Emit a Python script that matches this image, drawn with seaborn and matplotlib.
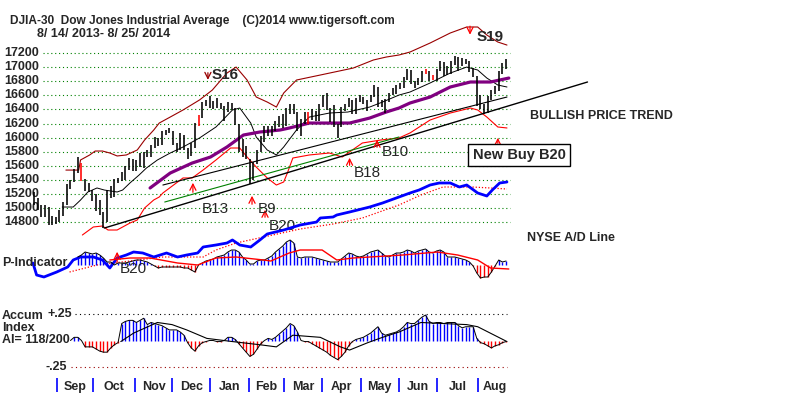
import matplotlib
matplotlib.use("Agg")
import matplotlib.pyplot as plt
import matplotlib.transforms as mtransforms
import seaborn as sns

# ---------------- data ----------------
# one bar per two trading days, bar k covers trading days 2k, 2k+1 (day 0 = 8/14/2013)
price_hi = [15230, 15150, 15040, 15050, 15020, 14890, 14880, 14980, 15090, 15340,
            15400, 15560, 15720, 15640, 15410, 15360, 15260, 15200, 15110, 14950,
            15260, 15320, 15410, 15430, 15510, 15600, 15710, 15690, 15680, 15780,
            15800, 15820, 15900, 16010, 16000, 16090, 16110, 16130, 16100, 15930,
            16060, 16040, 15860, 15920, 16210, 16320, 16500, 16530, 16590, 16520,
            16560, 16490, 16450, 16510, 16490, 16420, 16200, 15980, 15880, 15700,
            15650, 15830, 16020, 16170, 16170, 16160, 16240, 16300, 16340, 16420,
            16480, 16470, 16370, 16270, 16360, 16360, 16400, 16380, 16480, 16600,
            16630, 16420, 16460, 16190, 16440, 16470, 16560, 16540, 16560, 16610,
            16580, 16540, 16610, 16740, 16720, 16540, 16550, 16630, 16700, 16740,
            16780, 16860, 16970, 16960, 16800, 16840, 16950, 16980, 16950, 16890,
            16980, 17090, 17070, 17010, 17080, 17160, 17150, 17130, 17120, 17090,
            16990, 16880, 16600, 16480, 16590, 16680, 16730, 16940, 17060, 17110]
price_lo = [15050, 14980, 14870, 14880, 14760, 14760, 14770, 14800, 14890, 15050,
            15270, 15370, 15500, 15380, 15250, 15230, 15100, 14960, 14900, 14720,
            14800, 15140, 15160, 15350, 15380, 15400, 15540, 15520, 15530, 15590,
            15570, 15720, 15730, 15860, 15880, 15890, 16040, 16060, 15890, 15800,
            15820, 15830, 15700, 15740, 15860, 16160, 16280, 16450, 16420, 16400,
            16420, 16400, 16240, 16370, 16390, 16180, 15800, 15720, 15690, 15340,
            15400, 15620, 15800, 15940, 16020, 16030, 16090, 16150, 16130, 16170,
            16340, 16330, 16090, 16030, 16200, 16200, 16250, 16240, 16240, 16440,
            16390, 16220, 16150, 16000, 16150, 16380, 16430, 16340, 16340, 16510,
            16480, 16380, 16500, 16570, 16430, 16440, 16350, 16510, 16600, 16620,
            16690, 16700, 16820, 16760, 16710, 16740, 16790, 16900, 16800, 16820,
            16800, 16940, 16880, 16890, 16900, 17030, 16950, 17020, 17050, 16930,
            16860, 16450, 16410, 16330, 16350, 16530, 16620, 16660, 16900, 16980]
red_bars = [13, 45, 75, 107, 109]

price_levels = [14800, 15000, 15200, 15400, 15600, 15800, 16000,
                16200, 16400, 16600, 16800, 17000, 17200]

ma21_days = [16, 22, 26, 30, 35, 39, 46, 49, 53, 58, 62, 68, 75, 82, 91, 100, 109, 113, 119,
             122, 128, 133, 137, 144, 151, 162, 172, 184, 191, 200, 206, 217, 228, 237, 243,
             248, 254, 259]
ma21_vals = [15016, 15016, 15115, 15229, 15286, 15257, 15229, 15257, 15357, 15470, 15569,
             15683, 15782, 15867, 15995, 16151, 16392, 16420, 16207, 16009, 15825, 15754,
             15867, 16108, 16292, 16349, 16363, 16434, 16505, 16604, 16647, 16775, 16916,
             17001, 16959, 16845, 16746, 16718]

ma65_days = [64, 75, 87, 97, 106, 115, 124, 135, 140, 151, 173, 184, 193, 200, 206, 217,
             228, 239, 250, 260]
ma65_vals = [15286, 15498, 15640, 15725, 15867, 16037, 16080, 16108, 16136, 16207, 16207,
             16278, 16363, 16420, 16491, 16576, 16718, 16789, 16789, 16845]

upper_days = [18, 25, 26, 31, 34, 38, 42, 46, 51, 57, 61, 66, 69, 75, 82, 91, 98, 106,
              111, 117, 122, 128, 133, 137, 144, 157, 175, 186, 193, 200, 206, 217, 228,
              237, 243, 248, 254, 259]
upper_vals = [15540, 15540, 15683, 15754, 15810, 15810, 15782, 15740, 15754, 15825, 15966,
              16108, 16207, 16292, 16392, 16534, 16675, 16916, 17001, 16817, 16576, 16505,
              16434, 16633, 16817, 16888, 16987, 17101, 17143, 17172, 17214, 17342, 17484,
              17569, 17569, 17455, 17356, 17313]

lower_days = [27, 33, 38, 41, 46, 53, 57, 61, 66, 69, 71, 82, 87, 93, 100, 108, 113, 117,
              122, 128, 133, 137, 139, 142, 151, 162, 169, 180, 190, 200, 206, 217, 228,
              239, 243, 248, 254, 259]
lower_vals = [14619, 14733, 14747, 14690, 14690, 14789, 14832, 15002, 15116, 15158, 15215,
              15428, 15428, 15541, 15683, 15853, 15853, 15725, 15583, 15428, 15328, 15371,
              15498, 15711, 15754, 15782, 15725, 15924, 15966, 15995, 16066, 16250, 16349,
              16420, 16392, 16292, 16151, 16137]

# straight trend lines: (start day, end day), (start price, end price)
trend_a_days, trend_a_vals = [39, 303], [14718, 16789]
trend_b_days, trend_b_vals = [71, 259], [15328, 16576]
trend_g_days, trend_g_vals = [72, 200], [15087, 16009]

# NYSE advance/decline line and its moving average (arbitrary units)
ad_days = [0, 2, 6, 13, 19, 22, 26, 33, 38, 42, 46, 51, 55, 60, 66, 73, 79, 84, 90, 93,
           100, 106, 109, 113, 119, 124, 128, 137, 146, 155, 157, 164, 166, 173, 184, 191,
           200, 206, 211, 217, 222, 228, 233, 237, 243, 248, 251, 255, 259]
ad_vals = [17, 5, 3, 8, 13, 20, 23, 23, 20, 12, 22, 25, 28, 27, 23, 27, 23, 25, 27, 33,
           35, 37, 40, 35, 33, 40, 46, 50, 55, 58, 62, 63, 65, 68, 73, 77, 83, 87, 90, 95,
           97, 97, 93, 95, 87, 84, 90, 97, 98]
ad_ma_days = [20, 35, 71, 93, 100, 111, 126, 146, 164, 180, 200, 212, 224, 240, 250, 259]
ad_ma_vals = [8, 15, 23, 23, 30, 37, 43, 51, 56, 62, 75, 85, 93, 93, 92, 91]

# P-Indicator, bars k = 12..129
p_first = 12
p_vals = [8, 10, 13, 12, 11, 12, 10, 7, 3, 3,
          0, 2, 2, 2, 3, 4, 5, 5, 4, 3,
          1, -1, -3, -2, -2, -2, -2, -2, -2, -3,
          -3, -5, -7, 0, 2, 4, 5, 6, 8, 9,
          10, 13, 15, 15, 13, 8, 5, 1, 1, 4,
          5, 5, 7, 9, 13, 16, 19, 23, 25, 22,
          8, 7, 8, 8, 8, 7, 6, 5, 4, 3,
          3, 3, 6, 9, 12, 11, 9, 8, 9, 11,
          13, 14, 15, 12, 9, 8, 10, 12, 12, 13,
          15, 14, 12, 14, 15, 16, 13, 12, 14, 15,
          13, 8, 8, 8, 7, 6, 5, 3, -1, -8,
          -13, -12, -12, -7, -1, 5, 3, 4]
pma_days = [42, 53, 64, 79, 90, 100, 111, 126, 130, 140, 146, 158, 166, 175, 184, 202,
            221, 232, 243, 250, 260]
pma_vals = [5, 7, 7, 2, 0, 7, 8, 5, 4, 12, 15, 15, 5, 7, 8, 10, 13, 10, 5, -3, -4]

# Accumulation Index, bars k = 10..129
ai_first = 10
ai_vals = [0.0, 0.03, 0.03, 0.0, -0.06, -0.06, -0.06, -0.08, -0.10, -0.11,
           -0.11, -0.07, -0.04, -0.02, 0.16, 0.18, 0.19, 0.19, 0.17, 0.19,
           0.21, 0.15, 0.17, 0.16, 0.15, 0.14, 0.12, 0.10, 0.10, 0.10,
           0.08, 0.05, -0.02, -0.07, -0.10, -0.05, -0.02, -0.01, 0.0, 0.0,
           -0.01, -0.01, 0.0, 0.03, 0.03, 0.01, -0.03, -0.07, -0.11, -0.15,
           -0.13, -0.08, -0.03, 0.0, 0.02, 0.01, 0.03, 0.06, 0.09, 0.12,
           0.16, 0.14, 0.08, 0.0, -0.01, -0.01, -0.03, -0.05, -0.07, -0.09,
           -0.11, -0.14, -0.16, -0.18, -0.15, -0.11, -0.05, -0.01, 0.01, 0.02,
           0.03, 0.05, 0.07, 0.10, 0.13, 0.07, 0.05, 0.06, 0.07, 0.08,
           0.10, 0.13, 0.17, 0.16, 0.16, 0.19, 0.22, 0.24, 0.18, 0.16,
           0.17, 0.17, 0.16, 0.17, 0.17, 0.17, 0.14, 0.12, 0.13, 0.13,
           0.13, 0.02, -0.02, -0.03, -0.05, -0.07, -0.05, -0.04, -0.02, -0.01]
aima_days = [48, 55, 68, 76, 84, 95, 109, 124, 133, 142, 157, 168, 173, 183, 191, 200,
             212, 237, 243, 259]
aima_vals = [-0.01, 0.07, 0.17, 0.15, 0.10, 0.02, -0.01, -0.04, -0.06, 0.05, 0.03, -0.06,
             -0.09, -0.02, 0.03, 0.08, 0.17, 0.15, 0.13, -0.01]

months = ["Sep", "Oct", "Nov", "Dec", "Jan", "Feb", "Mar", "Apr", "May", "Jun", "Jul", "Aug"]
month_start = [13, 33, 56, 76, 97, 118, 137, 158, 179, 200, 221, 243]
last_day = 262

# ---------------- figure ----------------
sns.set_style("white")
plt.rcParams["font.family"] = ["Liberation Sans", "DejaVu Sans"]

W, H = 800, 395
fig = plt.figure(figsize=(W / 100, H / 100), dpi=100)
XLIM = (-18.0, 419.1)


def overlay(ylim):
    ax = fig.add_axes([0, 0, 1, 1])
    ax.set_xlim(*XLIM)
    ax.set_ylim(*ylim)
    ax.axis("off")
    return ax


ax = overlay((12350, 17952))      # price panel
ax_ad = overlay((-115, 280))      # A/D line
ax_p = overlay((-130, 265))       # P-Indicator
ax_ai = overlay((-0.514, 3.212))  # Accum Index


def ftext(x, y, s, **kw):
    kw.setdefault("fontweight", "bold")
    kw.setdefault("va", "center")
    fig.text(x / W, 1 - y / H, s, **kw)


bar_days = [2 * k + 0.5 for k in range(len(price_hi))]

# price grid + y labels
ax.hlines(price_levels, 5.5, 260.5, colors="#008000", lw=0.8, linestyles=(0, (1, 2.5)))
ylab_tr = mtransforms.blended_transform_factory(fig.transFigure, ax.transData)
for lv in price_levels:
    ax.text(4 / W, lv, str(lv), transform=ylab_tr, fontsize=9, fontweight="bold",
            va="center", ha="left")

# bands, moving averages, trend lines
sns.lineplot(x=upper_days, y=upper_vals, color="#990000", lw=0.8, ax=ax)
sns.lineplot(x=lower_days, y=lower_vals, color="#ff0000", lw=0.8, ax=ax)
sns.lineplot(x=ma21_days, y=ma21_vals, color="black", lw=0.7, ax=ax)
sns.lineplot(x=ma65_days, y=ma65_vals, color="#800080", lw=2.3, ax=ax)
ax.plot(trend_a_days, trend_a_vals, color="black", lw=1.0)
ax.plot(trend_b_days, trend_b_vals, color="black", lw=0.8)
ax.plot(trend_g_days, trend_g_vals, color="#008000", lw=0.8)

bar_colors = ["red" if k in red_bars else "black" for k in range(len(price_hi))]
ax.vlines(bar_days, price_lo, price_hi, colors=bar_colors, lw=1.15, zorder=3)


def arrow(a, d, tail, tip, color="red"):
    a.annotate("", xy=(d, tip), xytext=(d, tail),
               arrowprops=dict(arrowstyle="->", color=color, lw=0.9, mutation_scale=11))


arrow(ax, 87.4, 15186, 15399)
arrow(ax, 119.7, 15016, 15215)
arrow(ax, 126.8, 14832, 15016)
arrow(ax, 173, 15569, 15754)
arrow(ax, 188, 15825, 16009)
arrow(ax, 254, 15881, 16037)
arrow(ax, 95.6, 16960, 16780, color="#990000")
arrow(ax, 238.8, 17620, 17420)

sig_kw = dict(fontsize=11, ha="center", va="center")
ax.text(99.5, 14988, "B13", **sig_kw)
ax.text(127.9, 14988, "B9", **sig_kw)
ax.text(136, 14747, "B20", **sig_kw)
ax.text(182.5, 15498, "B18", **sig_kw)
ax.text(197.8, 15796, "B10", **sig_kw)
ax.text(105, 16888, "S16", fontweight="bold", **sig_kw)
ax.text(249.7, 17427, "S19", fontweight="bold", **sig_kw)
ax.text(265.6, 15754, "New Buy B20", fontsize=10.5, fontweight="bold", ha="center",
        va="center", bbox=dict(boxstyle="square,pad=0.3", fc="white", ec="black", lw=1))

# A/D line
sns.lineplot(x=ad_ma_days, y=ad_ma_vals, color="red", lw=0.9, linestyle=(0, (1, 1.5)), ax=ax_ad)
sns.lineplot(x=ad_days, y=ad_vals, color="#0000ff", lw=2.0, ax=ax_ad)

# P-Indicator
p_days = [2 * k + 0.5 for k in range(p_first, p_first + len(p_vals))]
ax_p.vlines(p_days, 0, p_vals, colors=["#0000ff" if v >= 0 else "red" for v in p_vals], lw=1.0)
sns.lineplot(x=p_days, y=p_vals, color="black", lw=0.7, ax=ax_p)
sns.lineplot(x=pma_days, y=pma_vals, color="red", lw=1.0, ax=ax_p)
arrow(ax_p, 46, 0, 16)
ax_p.text(55, -4, "B20", fontsize=11, ha="center", va="center")

# Accumulation Index
ai_days = [2 * k + 0.5 for k in range(ai_first, ai_first + len(ai_vals))]
ax_ai.hlines(0.25, 23, 259, colors="black", lw=0.8, linestyles=(0, (1, 3)))
ax_ai.hlines(-0.25, 21, 259, colors="#990000", lw=0.8, linestyles=(0, (1, 3)))
ax_ai.vlines(ai_days, 0, ai_vals, colors=["#0000ff" if v >= 0 else "red" for v in ai_vals], lw=1.0)
sns.lineplot(x=ai_days, y=ai_vals, color="black", lw=0.7, ax=ax_ai)
sns.lineplot(x=aima_days, y=aima_vals, color="black", lw=0.8, ax=ax_ai)

# month axis
mon_tr = mtransforms.blended_transform_factory(ax.transData, fig.transFigure)
ax.vlines(month_start, 1 - 392 / H, 1 - 378 / H, colors="#0000ff", lw=1.2, transform=mon_tr)
bounds = month_start + [last_day]
for i, name in enumerate(months):
    ax.text((bounds[i] + bounds[i + 1]) / 2, 1 - 387 / H, name, transform=mon_tr,
            fontsize=9, fontweight="bold", ha="center", va="center")

for a in (ax, ax_ad, ax_p, ax_ai):
    a.set_xlim(*XLIM)
ax.set_ylim(12350, 17952)
ax_ad.set_ylim(-115, 280)
ax_p.set_ylim(-130, 265)
ax_ai.set_ylim(-0.514, 3.212)

# labels
ftext(10, 21, "DJIA-30  Dow Jones Industrial Average    (C)2014 www.tigersoft.com", fontsize=8.6)
ftext(37, 34, "8/ 14/ 2013- 8/ 25/ 2014", fontsize=9)
ftext(530, 116, "BULLISH PRICE TREND", fontsize=9)
ftext(527, 238, "NYSE A/D Line", fontsize=9)
ftext(2, 263, "P-Indicator", fontsize=9)
ftext(2, 316, "Accum", fontsize=9)
ftext(2, 328, "Index", fontsize=9)
ftext(2, 340, "AI= 118/200", fontsize=9)
ftext(48, 314, "+.25", fontsize=9)
ftext(45, 367, "-.25", fontsize=9)

fig.savefig("out.png", dpi=100, facecolor="white")
